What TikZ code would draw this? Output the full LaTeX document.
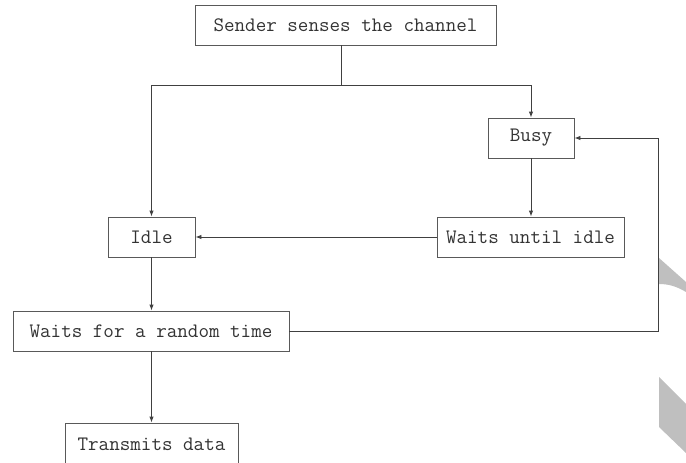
\documentclass[tikz,border=0pt]{standalone}
\usetikzlibrary{arrows.meta}
\begin{document}
\begin{tikzpicture}[x=1pt,y=-1pt,
  box/.style={draw=black!65,line width=0.9pt,rectangle,inner sep=0pt,anchor=center,
    font=\fontsize{20.5}{24}\selectfont\ttfamily,text=black!80},
  conn/.style={draw=black!75,line width=0.9pt},
  arr/.style={conn,-{Latex[length=6pt,width=4.5pt]}}]
\useasboundingbox (0,0) rectangle (686,463);
\clip (0,0) rectangle (686,463);
% watermark shapes
\fill[black!25] (659,258) -- (686,282) -- (686,292) .. controls (676,286) and (668,284) .. (659,284) -- cycle;
\fill[black!25] (659,377) -- (686,404) -- (686,453) -- (659,427) -- cycle;
% nodes
\node[box,minimum width=301,minimum height=40] (top) at (345.5,25) {Sender senses the channel};
\node[box,minimum width=86,minimum height=40] (busy) at (531,138) {Busy};
\node[box,minimum width=187,minimum height=40] (wait) at (530.5,237) {Waits until idle};
\node[box,minimum width=87,minimum height=40] (idle) at (151.5,237) {Idle};
\node[box,minimum width=276,minimum height=40] (rand) at (151,331) {Waits for a random time};
\node[box,minimum width=173,minimum height=42] (tx) at (151.5,444) {Transmits data};
% connectors
\coordinate (j) at (341,85);
\coordinate (fb) at (658,331);
\draw[conn] (top.south -| j) -- (j);
\draw[arr] (j) -| (busy.north);
\draw[arr] (j) -| (idle.north);
\draw[arr] (busy.south) -- (wait.north -| busy.south);
\draw[arr] (wait.west) -- (idle.east);
\draw[arr] (idle.south) -- (rand.north -| idle.south);
\draw[arr] (rand.south -| tx.north) -- (tx.north);
\draw[arr] (rand.east) -- (fb) |- (busy.east);
\end{tikzpicture}
\end{document}
